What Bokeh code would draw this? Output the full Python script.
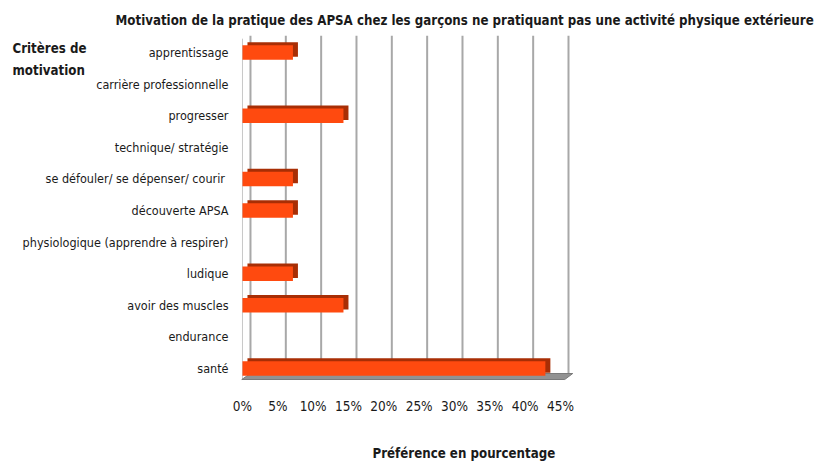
from bokeh.plotting import figure
from bokeh.models import Range1d, Label, FixedTicker, ColumnDataSource, Title
from bokeh.embed import file_html
from bokeh.resources import INLINE

# ---------------- data ----------------
categories = [
    "apprentissage",
    "carrière professionnelle",
    "progresser",
    "technique/ stratégie",
    "se défouler/ se dépenser/ courir ",
    "découverte APSA",
    "physiologique (apprendre à respirer)",
    "ludique",
    "avoir des muscles",
    "endurance",
    "santé",
]
values = [7.14, 0, 14.29, 0, 7.14, 7.14, 0, 7.14, 14.29, 0, 42.86]
x_ticks = [0, 5, 10, 15, 20, 25, 30, 35, 40, 45]
x_tick_labels = ["0%", "5%", "10%", "15%", "20%", "25%", "30%", "35%", "40%", "45%"]
title_text = "Motivation  de la pratique des APSA chez les garçons ne pratiquant pas une activité physique extérieure"
y_title = "Critères de\nmotivation"
x_title = "Préférence en pourcentage"

# ---------------- layout constants (canvas px) ----------------
W, H = 816, 463
FL, FR, FT, FB = 240, 573, 35, 380
X0, X1 = -0.28, 46.84
Y0, Y1 = -0.38, 10.54
SX = (FR - FL) / (X1 - X0)
SY = (FB - FT) / (Y1 - Y0)
GRID_DX = 8 / SX        # back wall offset
BAR_DX = 5 / SX         # bar depth offset
BAR_DY = 3 / SY
BAR_H = 14.5 / SY
FONT = "DejaVu Sans Condensed"
TXT = "#1a1a1a"

def px_x(X):
    return X0 + (X - FL) / SX

def px_y(Y):
    return Y0 + (FB - Y) / SY

n = len(categories)
ypos = [n - 1 - i for i in range(n)]

p = figure(width=W, height=H, x_range=Range1d(X0, X1), y_range=Range1d(Y0, Y1),
           output_backend="svg", toolbar_location=None,
           min_border_left=FL, min_border_right=W - FR,
           min_border_top=FT, min_border_bottom=H - FB)
p.extra_x_ranges = {"grid": Range1d(X0 - GRID_DX, X1 - GRID_DX),
                    "depth": Range1d(X0 - BAR_DX, X1 - BAR_DX)}
p.outline_line_color = None
p.xgrid.visible = False
p.ygrid.visible = False
p.background_fill_color = "white"
p.border_fill_color = "white"

# axes
xa = p.xaxis[0]
xa.ticker = FixedTicker(ticks=x_ticks)
xa.major_label_overrides = {t: l for t, l in zip(x_ticks, x_tick_labels)}
xa.axis_line_color = None
xa.major_tick_line_color = None
xa.minor_tick_line_color = None
xa.major_tick_out = 0
xa.minor_tick_out = 0
xa.major_label_standoff = 17
xa.major_label_text_font = FONT
xa.major_label_text_font_size = "13.5px"
xa.major_label_text_color = TXT

ya = p.yaxis[0]
ya.ticker = FixedTicker(ticks=ypos)
ya.major_label_overrides = {y: c for y, c in zip(ypos, categories)}
ya.axis_line_color = None
ya.major_tick_line_color = None
ya.minor_tick_line_color = None
ya.major_tick_out = 0
ya.minor_tick_out = 0
ya.major_label_standoff = 12
ya.major_label_text_font = FONT
ya.major_label_text_font_size = "12.5px"
ya.major_label_text_color = TXT

# back wall grid lines
floor_back = px_y(FB - 7)
p.segment(x0=x_ticks, x1=x_ticks, y0=[floor_back] * len(x_ticks), y1=[Y1] * len(x_ticks),
          x_range_name="grid", line_color="#A8A8A8", line_width=2)
# left wall front edge
p.segment(x0=[x_ticks[0]], x1=[x_ticks[0]], y0=[px_y(FB - 1)], y1=[Y1 - 0.1],
          line_color="#C8C8C8", line_width=1)

# floor
fx0 = x_ticks[0]
fx1 = x_ticks[-1] + 0.6
p.patch(x=[fx0 - 0.1, fx1, fx1 + GRID_DX, fx0 + GRID_DX],
        y=[px_y(FB - 1), px_y(FB - 1), floor_back, floor_back],
        fill_color="#929292", line_color="#7A7A7A", line_width=1)

# bars (3D: dark extrusion behind, front face on top)
src = ColumnDataSource(dict(y=ypos, v=values, yb=[y + BAR_DY for y in ypos]))
p.hbar(y="yb", left=0, right="v", height=BAR_H, source=src, x_range_name="depth",
       fill_color="#A82E05", line_color=None)
p.hbar(y="y", left=0, right="v", height=BAR_H, source=src,
       fill_color="#FF4A0F", line_color=None)

# titles
p.add_layout(Title(text=title_text, align="left", offset=-125,
                   text_font=FONT, text_font_style="bold", text_font_size="13.2px",
                   text_color=TXT, standoff=16), "above")
p.add_layout(Label(x=px_x(372), y=px_y(453), text=x_title,
                   text_align="left", text_baseline="middle",
                   text_font=FONT, text_font_style="bold",
                   text_font_size="13.2px", text_color=TXT), "below")
p.add_layout(Label(x=12 - FR, y=FB - 59, x_units="screen", y_units="screen",
                   text=y_title, text_align="left", text_baseline="middle",
                   text_line_height=1.5,
                   text_font=FONT, text_font_style="bold",
                   text_font_size="13.2px", text_color=TXT), "right")

open("out.html", "w").write(file_html(p, INLINE))
